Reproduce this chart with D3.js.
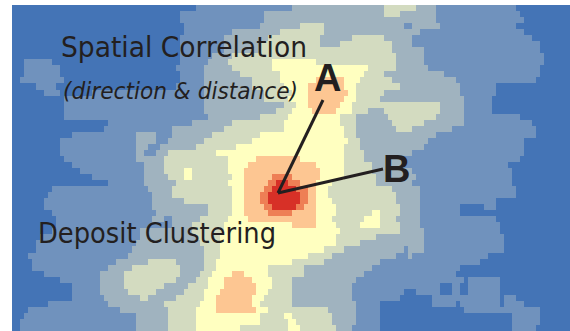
<!DOCTYPE html>
<html lang="en">
<head>
  <meta charset="UTF-8">
  <title>Spatial Correlation</title>
  <style>
    html, body { margin: 0; padding: 0; background: #fff; }
    svg { display: block; }
    text { fill: #231f20; font-family: "DejaVu Sans", sans-serif; }
  </style>
</head>
<body>
  <svg id="svg" width="570" height="331"></svg>

  <script src="https://cdn.jsdelivr.net/npm/d3@7"></script>
  <script>
    // density class per raster row, written as class:lastColumn runs
    const rasterRows = [
      "0:46 1:70 2:93 3:101 2:106 1:126 0:140",
      "0:42 1:63 2:93 3:97 2:106 1:127 0:140",
      "0:42 1:63 2:106 1:128 0:140",
      "0:43 1:62 2:72 3:78 2:98 1:100 2:107 1:126 0:140",
      "0:43 1:55 2:67 3:78 2:102 1:128 0:140",
      "0:42 1:53 2:64 3:77 2:85 3:93 2:100 1:130 0:140",
      "0:42 1:53 2:62 3:77 2:82 3:95 2:100 1:132 0:140",
      "0:42 1:53 2:62 3:95 2:103 1:132 0:140",
      "0:42 1:50 2:55 3:96 2:103 1:133 0:140",
      "0:3 1:10 0:42 1:49 2:54 3:65 4:76 3:96 2:103 1:133 0:140",
      "0:3 1:12 0:41 1:48 2:55 3:65 4:89 3:96 2:104 1:132 0:140",
      "0:3 1:12 0:42 1:48 2:57 3:67 4:88 3:93 2:108 1:132 0:140",
      "0:2 1:13 0:42 1:48 2:60 3:67 4:76 5:83 4:87 3:95 2:111 1:131 0:140",
      "0:6 1:11 0:41 1:48 2:60 3:68 4:74 5:83 4:86 3:97 2:112 1:121 0:140",
      "0:8 1:12 0:20 1:48 2:63 3:70 4:74 5:84 4:86 3:93 2:112 1:121 0:140",
      "0:13 1:48 2:63 3:69 4:74 5:83 4:86 3:92 2:113 1:120 0:140",
      "0:13 1:48 2:68 3:71 4:74 5:82 4:85 3:107 2:113 1:120 0:140",
      "0:13 1:48 2:66 3:70 4:75 5:81 4:85 3:89 2:93 3:107 2:113 1:120 0:140",
      "0:13 1:49 2:62 3:69 4:82 3:86 2:94 3:106 2:113 1:127 0:140",
      "0:24 1:45 2:55 3:68 4:82 3:86 2:95 3:103 2:113 1:130 0:140",
      "0:23 1:40 2:53 3:68 4:83 3:86 2:96 3:100 2:110 1:131 0:140",
      "0:15 1:31 2:36 1:40 2:50 3:62 4:83 3:86 2:106 1:131 0:140",
      "0:12 1:31 2:36 1:39 2:48 3:60 4:84 3:87 2:104 1:128 0:140",
      "0:12 1:31 2:34 1:37 2:46 3:56 4:83 3:87 2:103 1:128 0:140",
      "0:12 1:31 2:33 1:36 2:39 3:51 4:83 3:88 2:100 1:128 0:140",
      "0:13 1:31 2:38 3:54 4:61 5:72 4:83 3:88 2:98 1:127 0:140",
      "0:15 1:33 2:38 3:54 4:59 5:76 4:83 3:90 2:98 1:124 0:140",
      "0:17 1:33 2:38 3:43 4:45 3:54 4:58 5:77 4:83 3:90 2:100 1:125 0:140",
      "0:20 1:33 2:39 3:43 4:45 3:55 4:58 5:65 6:70 5:77 4:83 3:91 2:101 1:125 0:140",
      "0:24 1:33 2:41 3:54 4:58 5:64 6:66 7:69 6:72 5:76 4:80 3:91 2:100 1:125 0:140",
      "0:10 1:34 2:40 3:55 4:58 5:63 6:65 7:71 6:74 5:76 4:79 3:95 2:102 1:126 0:140",
      "0:9 1:35 2:40 3:55 4:58 5:62 6:64 7:72 6:74 5:76 4:79 3:96 2:102 1:126 0:140",
      "0:8 1:35 2:43 3:55 4:58 5:62 6:64 7:72 6:74 5:76 4:80 3:96 2:102 1:121 0:140",
      "0:8 1:35 2:49 3:55 4:58 5:63 6:65 7:71 6:73 5:76 4:81 3:97 2:102 1:112 0:118 1:121 0:140",
      "0:10 1:36 2:49 3:55 4:58 5:64 6:70 5:76 4:81 3:90 4:92 3:97 2:102 1:112 0:140",
      "0:11 1:35 2:38 1:40 2:47 3:54 4:59 5:76 4:80 3:88 4:92 3:96 2:102 1:121 0:140",
      "0:11 1:40 2:45 3:53 4:70 5:76 4:81 3:87 4:92 3:97 2:102 1:122 0:140",
      "0:10 1:32 2:45 3:53 4:82 3:97 2:103 1:122 0:140",
      "0:7 1:32 2:46 3:52 4:81 3:91 2:103 1:123 0:140",
      "0:6 1:31 2:47 3:52 4:81 3:87 2:103 1:123 0:140",
      "0:6 1:30 2:48 3:52 4:78 3:83 2:98 1:99 2:103 1:123 0:140",
      "0:4 1:29 2:48 3:52 4:74 3:80 2:96 1:99 2:100 1:119 0:140",
      "0:5 1:26 2:34 3:41 2:48 3:51 4:70 3:78 2:92 1:117 0:140",
      "0:5 1:24 2:30 3:42 2:48 3:51 4:64 3:73 2:90 1:112 0:140",
      "0:8 1:22 2:28 3:42 2:47 3:50 4:55 5:58 4:64 3:73 2:88 1:111 0:140",
      "0:12 1:22 2:28 3:41 2:46 3:49 4:53 5:60 4:65 3:70 2:86 1:113 0:114 1:122 0:140",
      "0:15 1:22 2:28 3:38 2:44 3:49 4:53 5:61 4:65 3:70 2:85 1:107 0:110 1:112 0:114 1:122 0:140",
      "0:15 1:22 2:29 3:36 2:43 3:48 4:52 5:61 4:64 3:70 2:85 1:98 0:101 1:107 0:110 1:112 0:114 1:122 0:140",
      "0:15 1:23 2:32 3:34 2:41 3:48 4:51 5:60 4:63 3:70 2:85 1:97 0:105 1:122 0:123 1:126 0:140",
      "0:9 1:24 2:38 3:47 4:51 5:60 4:62 3:70 2:86 1:92 0:105 1:111 0:112 1:122 0:123 1:128 0:140",
      "0:4 1:27 2:39 3:46 4:51 5:61 4:64 3:79 2:86 1:92 0:113 1:132 0:140",
      "0:3 1:31 2:39 3:46 4:62 3:68 4:70 3:80 2:86 1:92 0:125 1:132 0:140",
      "0:2 1:31 2:39 3:46 4:62 3:69 4:71 3:80 2:86 1:92 0:125 1:132 0:140",
      "0:2 1:31 2:39 3:46 4:57 3:69 4:72 3:81 2:85 1:92 0:125 1:131 0:140"
    ]
    const classColors = ['#4474b6', '#7092bd', '#a0b3bf', '#d3dbc0', '#ffffc0', '#fdc692', '#ee7f55', '#d73027']

    const width = 570
    const height = 331
    const nCols = 140

    // expand the runs into one cell per column
    const cells = []
    rasterRows.forEach((row, r) => {
      let c = 0
      row.split(' ').forEach(run => {
        const [level, end] = run.split(':').map(Number)
        for (; c < end; c++) cells.push({ r, c, level })
      })
    })

    const x = d3.scaleBand().domain(d3.range(nCols)).range([12, 572])
    const y = d3.scaleBand().domain(d3.range(rasterRows.length)).range([5, height])
    const color = d3.scaleOrdinal().domain(d3.range(classColors.length)).range(classColors)

    const svg = d3.select('#svg')

    svg.append('g')
      .attr('shape-rendering', 'crispEdges')
      .selectAll('rect')
      .data(cells)
      .enter()
      .append('rect')
      .attr('x', d => x(d.c))
      .attr('y', d => y(d.r))
      .attr('width', x.bandwidth() + 0.5)
      .attr('height', y.bandwidth() + 0.5)
      .attr('fill', d => color(d.level))

    // vectors from the deposit cluster to A and B
    svg.append('g')
      .selectAll('line')
      .data([[323, 100], [383, 169]])
      .enter()
      .append('line')
      .attr('x1', 278)
      .attr('y1', 193)
      .attr('x2', d => d[0])
      .attr('y2', d => d[1])
      .attr('stroke', '#231f20')
      .attr('stroke-width', 3)

    const labels = [
      { text: 'Spatial Correlation', x: 61, y: 57, size: 29, len: 246 },
      { text: '(direction & distance)', x: 63, y: 99, size: 23, len: 235, italic: true },
      { text: 'Deposit Clustering', x: 38, y: 243, size: 29, len: 238 },
      { text: 'A', x: 314, y: 91, size: 38, bold: true, font: 'Liberation Sans' },
      { text: 'B', x: 383, y: 182, size: 38, bold: true, font: 'Liberation Sans' }
    ]

    svg.append('g')
      .selectAll('text')
      .data(labels)
      .enter()
      .append('text')
      .text(d => d.text)
      .attr('x', d => d.x)
      .attr('y', d => d.y)
      .attr('font-size', d => d.size)
      .style('font-family', d => d.font || null)
      .attr('font-style', d => d.italic ? 'italic' : 'normal')
      .attr('font-weight', d => d.bold ? 'bold' : 'normal')
      .attr('textLength', d => d.len || null)
      .attr('lengthAdjust', 'spacingAndGlyphs')
  </script>
</body>
</html>
